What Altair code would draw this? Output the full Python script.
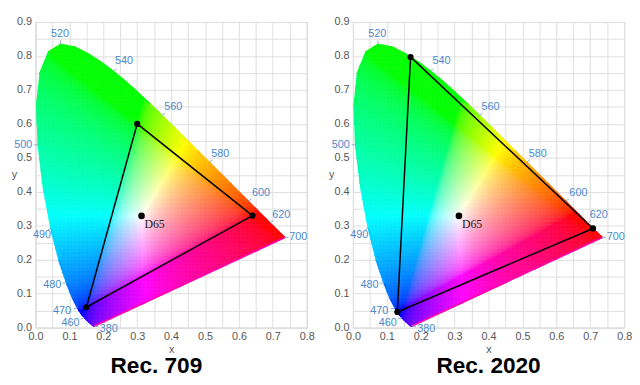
import numpy as np
import pandas as pd
import altair as alt

alt.data_transformers.disable_max_rows()

# CIE 1931 2-degree spectral locus (wavelength nm, x, y)
locus_wl = [380, 385, 390, 395, 400, 405, 410, 415, 420, 425, 430, 435, 440, 445, 450,
            455, 460, 465, 470, 475, 480, 485, 490, 495, 500, 505, 510, 515, 520, 525,
            530, 535, 540, 545, 550, 555, 560, 565, 570, 575, 580, 585, 590, 595, 600,
            605, 610, 615, 620, 625, 630, 635, 640, 645, 650, 655, 660, 665, 670, 675,
            680, 685, 690, 695, 700]
locus_x = [0.1741, 0.1740, 0.1738, 0.1736, 0.1733, 0.1730, 0.1726, 0.1721, 0.1714, 0.1703,
           0.1689, 0.1669, 0.1644, 0.1611, 0.1566, 0.1510, 0.1440, 0.1355, 0.1241, 0.1096,
           0.0913, 0.0687, 0.0454, 0.0235, 0.0082, 0.0039, 0.0139, 0.0389, 0.0743, 0.1142,
           0.1547, 0.1929, 0.2296, 0.2658, 0.3016, 0.3373, 0.3731, 0.4087, 0.4441, 0.4788,
           0.5125, 0.5448, 0.5752, 0.6029, 0.6270, 0.6482, 0.6658, 0.6801, 0.6915, 0.7006,
           0.7079, 0.7140, 0.7190, 0.7230, 0.7260, 0.7283, 0.7300, 0.7311, 0.7320, 0.7327,
           0.7334, 0.7340, 0.7344, 0.7346, 0.7347]
locus_y = [0.0050, 0.0050, 0.0049, 0.0049, 0.0048, 0.0048, 0.0048, 0.0048, 0.0051, 0.0058,
           0.0069, 0.0086, 0.0109, 0.0138, 0.0177, 0.0227, 0.0297, 0.0399, 0.0578, 0.0868,
           0.1327, 0.2007, 0.2950, 0.4127, 0.5384, 0.6548, 0.7502, 0.8120, 0.8338, 0.8262,
           0.8059, 0.7816, 0.7543, 0.7243, 0.6923, 0.6589, 0.6245, 0.5896, 0.5547, 0.5202,
           0.4866, 0.4544, 0.4242, 0.3965, 0.3725, 0.3514, 0.3340, 0.3197, 0.3083, 0.2993,
           0.2920, 0.2859, 0.2809, 0.2770, 0.2740, 0.2717, 0.2700, 0.2689, 0.2680, 0.2673,
           0.2666, 0.2660, 0.2656, 0.2654, 0.2653]

# wavelength labels (text) and where they sit
label_text = ["380", "460", "470", "480", "490", "500", "520", "540", "560", "580", "600", "620", "700"]
label_wl = [380, 460, 470, 480, 490, 500, 520, 540, 560, 580, 600, 620, 700]
label_x = [0.216, 0.103, 0.078, 0.049, 0.019, -0.036, 0.072, 0.261, 0.406, 0.545, 0.665, 0.725, 0.775]
label_y = [-0.003, 0.013, 0.048, 0.124, 0.272, 0.537, 0.865, 0.784, 0.651, 0.512, 0.396, 0.331, 0.268]

# gamuts
rec709_x = [0.64, 0.30, 0.15]
rec709_y = [0.33, 0.60, 0.06]
rec2020_x = [0.708, 0.170, 0.131]
rec2020_y = [0.292, 0.797, 0.046]
d65_x, d65_y = 0.3127, 0.3290

x_ticks = [round(i * 0.05, 2) for i in range(17)]
y_ticks = [round(i * 0.05, 2) for i in range(19)]

M = np.array([[3.2406, -1.5372, -0.4986], [-0.9689, 1.8758, 0.0415], [0.0557, -0.2040, 1.0570]])


def xy_to_hex(gx, gy):
    XYZ = np.stack([gx / gy, np.ones_like(gx), (1 - gx - gy) / gy])
    rgb = np.clip(M @ XYZ, 0, None)
    rgb = rgb / rgb.max(axis=0, keepdims=True)
    rgb = np.where(rgb <= 0.0031308, 12.92 * rgb, 1.055 * np.power(rgb, 1 / 2.4) - 0.055)
    rgb = np.clip(np.round(rgb * 255), 0, 255).astype(int)
    return ["#%02x%02x%02x" % tuple(c) for c in rgb.T]


# ---- colour fill of the horseshoe ----
poly = np.array(list(zip(locus_x, locus_y)))
step = 0.004
xs = np.arange(0, 0.75, step) + step / 2
ys = np.arange(0, 0.84, step) + step / 2
GX, GY = np.meshgrid(xs, ys)
GX = GX.ravel(); GY = GY.ravel()
inside = np.zeros(GX.shape, bool)
n = len(poly); j = n - 1
for i in range(n):
    xi, yi = poly[i]; xj, yj = poly[j]
    cond = ((yi > GY) != (yj > GY)) & (GX < (xj - xi) * (GY - yi) / (yj - yi + 1e-12) + xi)
    inside ^= cond
    j = i
GX = GX[inside]; GY = GY[inside]
cells = pd.DataFrame({"x0": np.round(GX - step / 2, 4), "x1": np.round(GX + step / 2, 4),
                      "y0": np.round(GY - step / 2, 4), "y1": np.round(GY + step / 2, 4),
                      "c": xy_to_hex(GX, GY)})

# outline segments of the locus (smooth the edge), coloured like the fill next to them
ex = locus_x + [locus_x[0]]
ey = locus_y + [locus_y[0]]
seg = pd.DataFrame({"sx": ex[:-1], "sy": ey[:-1], "tx": ex[1:], "ty": ey[1:]})
mx = (seg["sx"] + seg["tx"]).to_numpy() / 2
my = (seg["sy"] + seg["ty"]).to_numpy() / 2
seg["c"] = xy_to_hex(mx, my)
seg = seg[(seg["sx"] != seg["tx"]) | (seg["sy"] != seg["ty"])]

lab_df = pd.DataFrame({"t": label_text, "wl": label_wl, "lx": label_x, "ly": label_y})
lut = dict(zip(locus_wl, zip(locus_x, locus_y)))
lab_df["px"] = [lut[w][0] for w in label_wl]
lab_df["py"] = [lut[w][1] for w in label_wl]
dx = lab_df["lx"] - lab_df["px"]; dy = lab_df["ly"] - lab_df["py"]
dn = np.sqrt(dx ** 2 + dy ** 2)
lab_df["qx"] = lab_df["px"] + 0.012 * dx / dn
lab_df["qy"] = lab_df["py"] + 0.012 * dy / dn

FONT = "Liberation Sans"
xscale = alt.Scale(domain=[0, 0.8], nice=False, zero=False, padding=0)
yscale = alt.Scale(domain=[0, 0.9], nice=False, zero=False, padding=0)
lab_expr = "abs(datum.value*10 - round(datum.value*10)) < 0.001 ? format(datum.value, '.1f') : ''"

x_axis = alt.Axis(values=x_ticks, labelExpr=lab_expr, ticks=False, domain=False, labelOverlap=False,
                  labelFlush=False, grid=True, gridColor="#dedede", labelColor="#555", labelFont=FONT,
                  labelFontSize=11, labelPadding=3, titleFont=FONT, titleFontSize=11,
                  titleFontWeight="normal", titleColor="#555", titlePadding=2)
y_axis = alt.Axis(values=y_ticks, labelExpr=lab_expr, ticks=False, domain=False, labelOverlap=False,
                  labelFlush=False, grid=True, gridColor="#dedede", labelColor="#555", labelFont=FONT,
                  labelFontSize=11, labelPadding=4, titleFont=FONT, titleFontSize=11,
                  titleFontWeight="normal", titleColor="#555", titleAngle=0, titleX=-22, titleY=155,
                  titleAlign="center", titleBaseline="middle")


def X(f):
    return alt.X(f, type="quantitative", scale=xscale, axis=x_axis, title="x")


def Y(f):
    return alt.Y(f, type="quantitative", scale=yscale, axis=y_axis, title="y")


def panel(title, gx, gy, dxt):
    fill = alt.Chart(cells).mark_rect(strokeWidth=0.5).encode(
        x=X("x0"), x2="x1", y=Y("y0"), y2="y1",
        color=alt.Color("c:N", scale=None),
        stroke=alt.Stroke("c:N", scale=None),
    )
    edge = alt.Chart(seg).mark_rule(strokeWidth=1.6, strokeCap="round").encode(
        x=X("sx"), y=Y("sy"), x2="tx", y2="ty", color=alt.Color("c:N", scale=None))
    tri = pd.DataFrame({"x": gx + [gx[0]], "y": gy + [gy[0]], "o": [0, 1, 2, 3]})
    tri_line = alt.Chart(tri).mark_line(color="black", strokeWidth=1.5).encode(
        x=X("x"), y=Y("y"), order="o:Q")
    tri_pts = alt.Chart(tri.iloc[:3]).mark_circle(color="black", size=40, opacity=1).encode(
        x=X("x"), y=Y("y"))
    d65 = pd.DataFrame({"x": [d65_x], "y": [d65_y], "t": ["D65"]})
    d65_pt = alt.Chart(d65).mark_circle(color="black", size=45, opacity=1).encode(
        x=X("x"), y=Y("y"))
    d65_tx = alt.Chart(d65).mark_text(font="Liberation Serif", fontSize=12, color="#222",
                                      align="left", baseline="middle", dx=3, dy=8).encode(
        x=X("x"), y=Y("y"), text="t:N")
    ticks = alt.Chart(lab_df).mark_rule(color="#8aa8c8", strokeWidth=1).encode(
        x=X("px"), y=Y("py"), x2="qx", y2="qy")
    labs = alt.Chart(lab_df).mark_text(font=FONT, fontSize=11, color="#4a88cc",
                                       align="center", baseline="middle").encode(
        x=X("lx"), y=Y("ly"), text="t:N")
    return alt.layer(fill, edge, tri_line, d65_pt, d65_tx, ticks, labs, tri_pts).properties(
        width=276, height=311,
        title=alt.TitleParams(title, orient="bottom", fontSize=23, fontWeight="bold", font=FONT,
                              color="#000", offset=1, dx=dxt))


chart = alt.hconcat(
    panel("Rec. 709", rec709_x, rec709_y, -15),
    panel("Rec. 2020", rec2020_x, rec2020_y, 0),
    spacing=12,
).properties(
    padding={"left": 2, "top": 4, "right": -1, "bottom": -4}
).configure(background="white").configure_view(stroke="#cccccc", strokeWidth=1)

chart.save("out.html", embed_options={"renderer": "svg", "actions": False})
